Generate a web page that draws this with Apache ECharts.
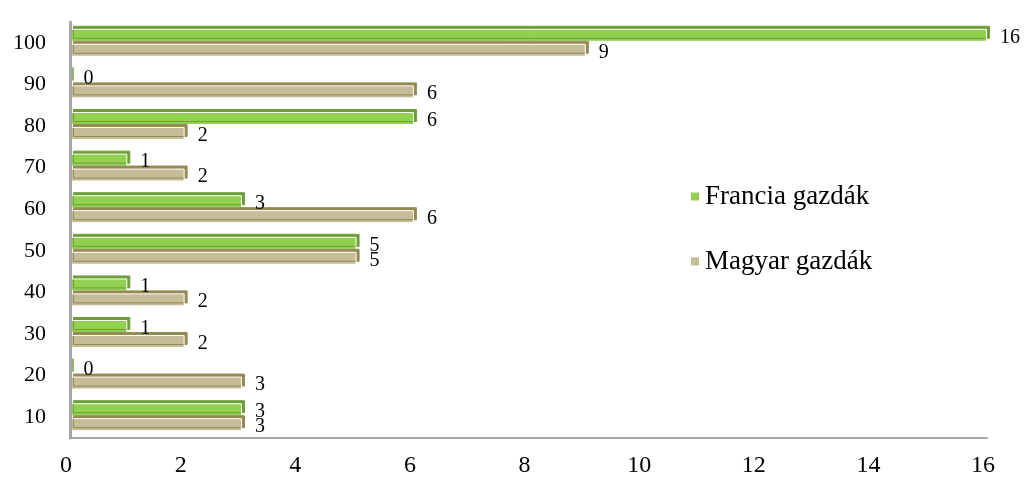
<!DOCTYPE html>
<html><head><meta charset="utf-8">
<script src="https://cdn.jsdelivr.net/npm/echarts@6/dist/echarts.min.js"></script>
<style>html,body{margin:0;padding:0;background:#fff}#c{width:1027px;height:481px}</style>
</head><body><div id="c"></div>
<script>
const categories = ['10','20','30','40','50','60','70','80','90','100'];
const francia = [3,0,1,1,5,3,1,6,0,16];
const magyar = [3,3,2,2,5,6,2,2,6,9];
const seriesNames = ['Francia gazdák','Magyar gazdák'];
const xTicks = {min:0,max:16,interval:2};

const chart = echarts.init(document.getElementById('c'));
const font = '"Liberation Serif","Times New Roman",serif';
function mk(name, data, color, shadow){
  return {
    name, type:'bar', data, barWidth:13, barGap:'15%',
    itemStyle:{color, borderColor:'#fff', borderWidth:1, shadowColor:shadow, shadowOffsetX:3, shadowOffsetY:-3, shadowBlur:0},
    label:{show:true, position:'right', distance:13, offset:[0,2], color:'#000', fontFamily:font, fontSize:20}
  };
}
chart.setOption({
  animation:false,
  textStyle:{fontFamily:font},
  grid:{left:70,right:40,top:22,bottom:43},
  legend:{orient:'vertical', left:684, top:178, itemGap:38, itemWidth:10, itemHeight:10, icon:'rect',
    data:seriesNames, textStyle:{fontFamily:font, fontSize:27, color:'#000'}},
  xAxis:{type:'value', min:xTicks.min, max:xTicks.max, interval:xTicks.interval,
    axisLine:{show:true, lineStyle:{color:'#A6A6A6', width:2}}, axisTick:{show:false},
    splitLine:{show:false}, axisLabel:{color:'#000', fontFamily:font, fontSize:24, margin:16, padding:[0,8,0,0]}},
  yAxis:{type:'category', data:categories, offset:4, z:5,
    axisLine:{show:true, lineStyle:{color:'#A6A6A6', width:3}}, axisTick:{show:false},
    axisLabel:{color:'#000', fontFamily:font, fontSize:22, margin:20}},
  series:[ mk(seriesNames[0], francia, '#92D050', '#6E9E3A'), mk(seriesNames[1], magyar, '#C4BD97', '#948A54') ]
});
</script></body></html>
